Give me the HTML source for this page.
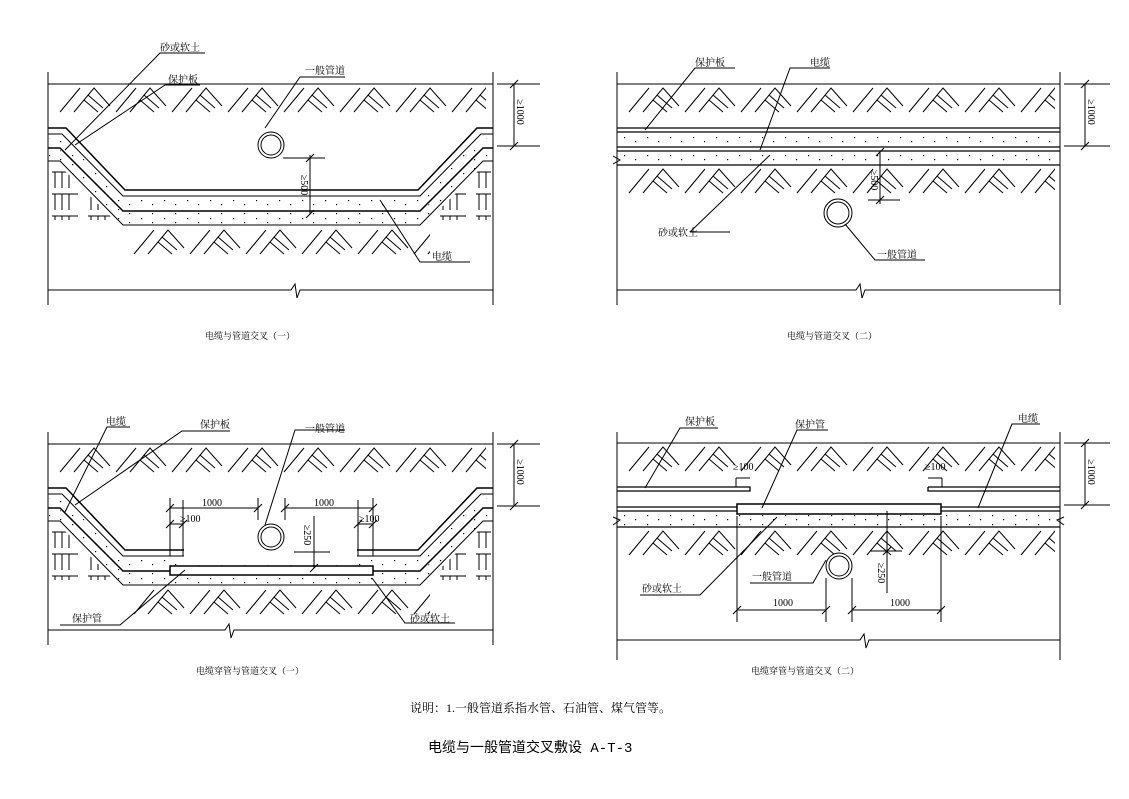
<!DOCTYPE html>
<html><head><meta charset="utf-8"><style>
html,body{margin:0;padding:0;background:#fff}
svg{display:block}
text{font-family:"Liberation Serif","Noto Serif CJK SC","Noto Sans CJK SC",serif;fill:#000}
</style></head><body>
<svg width="1129" height="799" viewBox="0 0 1129 799" xmlns="http://www.w3.org/2000/svg">
<defs>
<pattern id="h" width="56" height="28" patternUnits="userSpaceOnUse">
<g stroke="#000" stroke-width="1" fill="none">
<path d="M4,26 L24,2"/><path d="M18,26 L38,2 L54,20"/><path d="M28,14 L42,26"/><path d="M32,9 L47,22"/>
</g></pattern>
<pattern id="hs" width="36" height="22" patternUnits="userSpaceOnUse">
<g stroke="#000" stroke-width="1" fill="none">
<path d="M3,4 L3,20"/><path d="M10,4 L10,20"/><path d="M17,4 L17,20"/><path d="M0,4 L26,4"/>
</g></pattern>
<pattern id="d" width="23" height="9" patternUnits="userSpaceOnUse">
<rect x="3" y="2" width="1.2" height="1.2" fill="#000"/><rect x="14" y="6" width="1.2" height="1.2" fill="#000"/>
</pattern>
<g id="trench" stroke="#000" fill="none" stroke-width="1">
<path d="M48,162 L60,162 L123,225 L420,225 L483,162 L493,162 L493,150 L483,150 L420,213 L123,213 L60,150 L48,150Z" fill="url(#d)" stroke="none"/>
<path d="M48,146 L62,146 L125,209 L418,209 L481,146 L493,146 L493,138 L481,138 L418,199 L125,199 L62,138 L48,138Z" fill="url(#d)" stroke="none"/>
<path d="M48,128 L66,128 L125,190 L418,190 L477,128 L493,128" stroke-width="1.5"/>
<path d="M48,134 L62,134 L123,196 L420,196 L481,134 L493,134"/>
<path d="M48,148 L60,148 L123,211 L420,211 L483,148 L493,148" stroke-width="1.5"/>
<path d="M48,161 L60,161 L123,225 L420,225 L483,161 L493,161"/>
<g transform="translate(130,228)"><rect x="0" y="0" width="300" height="28" fill="url(#h)" stroke="none"/></g>
<g transform="translate(52,168)"><path d="M0,0 L10,0 L62,52 L0,52Z" fill="url(#hs)" stroke="none"/></g>
<g transform="translate(440,168)"><path d="M51,0 L41,0 L-11,52 L51,52Z" fill="url(#hs)" stroke="none"/></g>
</g>
</defs>
<g stroke="#000" fill="none" stroke-width="1">
<!-- Panel 1 -->
<path d="M48,72 V305 M493,72 V305 M48,84 H493"/>
<g transform="translate(56,86)"><rect width="430" height="28" fill="url(#h)" stroke="none"/></g>
<use href="#trench"/>
<path d="M48,290 H291 L295,284 L297,298 L300,290 H493"/>
<circle cx="271" cy="145" r="13"/><circle cx="271" cy="145" r="10"/>
<path d="M497,84 H540 M497,146 H540 M514,84 V146 M510,88 L518,80 M510,150 L518,142"/>
<path d="M283,158 H325 M310,155 V214 M306,218 L314,210 M306,162 L314,154"/>
<path d="M265,128 L300,77 H345"/>
<path d="M65,150 L160,53 H205"/><path d="M75,145 L165,85 H200"/>
<path d="M380,200 L420,262 H470"/>
<!-- Panel 2 -->
<path d="M617,72 V305 M1060,72 V305 M617,84 H1060"/>
<g transform="translate(625,86)"><rect width="430" height="28" fill="url(#h)" stroke="none"/></g>
<path d="M617,128 H1060 M617,132 H1060" stroke-width="1.3"/>
<rect x="617" y="134" width="443" height="12" fill="url(#d)" stroke="none"/>
<path d="M617,147 H1060 M617,151 H1060" stroke-width="1.3"/>
<rect x="617" y="153" width="443" height="11" fill="url(#d)" stroke="none"/>
<path d="M617,165 H1060" stroke-width="1.3"/>
<path d="M613,156 L620,160 L613,164"/>
<g transform="translate(625,167)"><rect width="430" height="28" fill="url(#h)" stroke="none"/></g>
<path d="M617,290 H856 L860,284 L862,298 L865,290 H1060"/>
<circle cx="838" cy="213" r="14"/><circle cx="838" cy="213" r="11"/>
<path d="M1064,84 H1110 M1064,146 H1110 M1085,84 V146 M1081,88 L1089,80 M1081,150 L1089,142"/>
<path d="M868,200 H900 M880,152 V204 M876,156 L884,148 M876,204 L884,196"/>
<path d="M645,130 L695,68 H735"/><path d="M760,150 L790,68 H830"/>
<path d="M690,232 L770,155"/><path d="M690,232 H730"/>
<path d="M845,224 L875,260 H925"/>
<!-- Panel 3 -->
<path d="M48,432 V645 M493,432 V645 M48,444 H493"/>
<g transform="translate(56,446)"><rect width="430" height="28" fill="url(#h)" stroke="none"/></g>
<g transform="translate(0,360)"><use href="#trench"/></g>
<rect x="184" y="495" width="173" height="70" fill="#fff" stroke="none"/>
<path d="M183,500 V556 M170,556 H183 M170,550 H183 M358,500 V556 M358,556 H372 M358,550 H372"/>
<rect x="170" y="566" width="203" height="9" fill="#fff" stroke-width="1.5"/>
<path d="M48,630 H225 L229,624 L231,638 L234,630 H493"/>
<circle cx="271" cy="537" r="13"/><circle cx="271" cy="537" r="10"/>
<path d="M497,444 H540 M497,506 H540 M514,444 V506 M510,448 L518,440 M510,510 L518,502"/>
<path d="M170,498 V556 M258,498 V520 M285,498 V520 M373,498 V556 M170,508 H258 M285,508 H373 M166,512 L174,504 M254,512 L262,504 M281,512 L289,504 M369,512 L377,504"/>
<path d="M170,524 H183 M358,524 H372 M166,528 L174,520 M179,528 L187,520 M354,528 L362,520 M369,528 L377,520"/>
<path d="M294,552 H330 M314,516 V568 M310,572 L318,564"/>
<path d="M65,512 L107,427 H130"/><path d="M75,505 L182,431 H230"/><path d="M265,525 L295,430 H345"/>
<path d="M185,570 L120,625 H60"/><path d="M372,578 L405,623 H455"/>
<!-- Panel 4 -->
<path d="M617,432 V660 M1060,432 V660 M617,443 H1060"/>
<g transform="translate(625,445)"><rect width="430" height="28" fill="url(#h)" stroke="none"/></g>
<path d="M617,487 H750 V491 H617 M928,487 H1060 M928,487 V491 H1060" stroke-width="1.3"/>
<path d="M617,507 H737 M617,511 H737 M941,507 H1060 M941,511 H1060" stroke-width="1.3"/>
<rect x="737" y="504" width="204" height="10" stroke-width="1.5"/>
<rect x="617" y="515" width="443" height="11" fill="url(#d)" stroke="none"/>
<path d="M617,527 H1060" stroke-width="1.3"/>
<path d="M613,517 L620,520 L613,525 M1064,517 L1057,520 L1064,525"/>
<g transform="translate(625,529)"><rect width="430" height="28" fill="url(#h)" stroke="none"/></g>
<path d="M617,640 H860 L864,634 L866,648 L869,640 H1060"/>
<circle cx="839" cy="566" r="13" fill="#fff"/><circle cx="839" cy="566" r="10"/>
<path d="M1064,443 H1110 M1064,505 H1110 M1085,443 V505 M1081,447 L1089,439 M1081,509 L1089,501"/>
<path d="M737,516 V622 M826,578 V622 M852,578 V622 M941,516 V622 M737,610 H826 M852,610 H941 M733,614 L741,606 M822,614 L830,606 M848,614 L856,606 M937,614 L945,606"/>
<path d="M870,551 H902 M887,511 V593 M883,555 L891,547"/>
<path d="M736,478 H750 M928,478 H942 M736,478 V487 M942,478 V487"/>
<path d="M645,488 L680,428 H718"/><path d="M762,508 L797,430 H828"/>
<path d="M978,508 L1012,424 H1040"/>
<path d="M777,517 L700,595 H640"/><path d="M826,560 L813,583 H750"/>
</g>
<g font-size="10">
<text x="160" y="51">砂或软土</text>
<text x="168" y="83">保护板</text>
<text x="305" y="74">一般管道</text>
<text x="432" y="260">电缆</text>
<text x="517" y="112" transform="rotate(90 517 112)" text-anchor="middle">≥1000</text>
<text x="301" y="185" transform="rotate(90 301 185)" text-anchor="middle">≥500</text>
<text x="695" y="66">保护板</text>
<text x="810" y="66">电缆</text>
<text x="658" y="236">砂或软土</text>
<text x="877" y="258">一般管道</text>
<text x="1088" y="112" transform="rotate(90 1088 112)" text-anchor="middle">≥1000</text>
<text x="871" y="180" transform="rotate(90 871 180)" text-anchor="middle">≥500</text>
<text x="106" y="425">电缆</text>
<text x="200" y="428">保护板</text>
<text x="305" y="432">一般管道</text>
<text x="202" y="506">1000</text>
<text x="314" y="506">1000</text>
<text x="180" y="522">≥100</text>
<text x="359" y="522">≥100</text>
<text x="304" y="535" transform="rotate(90 304 535)" text-anchor="middle">≥250</text>
<text x="72" y="622">保护管</text>
<text x="410" y="622">砂或软土</text>
<text x="517" y="472" transform="rotate(90 517 472)" text-anchor="middle">≥1000</text>
<text x="685" y="425">保护板</text>
<text x="795" y="428">保护管</text>
<text x="1018" y="422">电缆</text>
<text x="733" y="470">≥100</text>
<text x="925" y="470">≥100</text>
<text x="642" y="592">砂或软土</text>
<text x="752" y="580">一般管道</text>
<text x="773" y="606">1000</text>
<text x="890" y="606">1000</text>
<text x="878" y="573" transform="rotate(90 878 573)" text-anchor="middle">≥250</text>
<text x="1088" y="472" transform="rotate(90 1088 472)" text-anchor="middle">≥1000</text>
<text x="250" y="339" text-anchor="middle" font-size="9">电缆与管道交叉（一）</text>
<text x="832" y="339" text-anchor="middle" font-size="9">电缆与管道交叉（二）</text>
<text x="250" y="674" text-anchor="middle" font-size="9">电缆穿管与管道交叉（一）</text>
<text x="805" y="674" text-anchor="middle" font-size="9">电缆穿管与管道交叉（二）</text>
</g>
<text x="410" y="712" font-size="12">说明：1.一般管道系指水管、石油管、煤气管等。</text>
<text x="428" y="752" font-size="14" style="font-family:'Liberation Mono','Noto Sans CJK SC',monospace">电缆与一般管道交叉敷设 A-T-3</text>
</svg>
</body></html>
